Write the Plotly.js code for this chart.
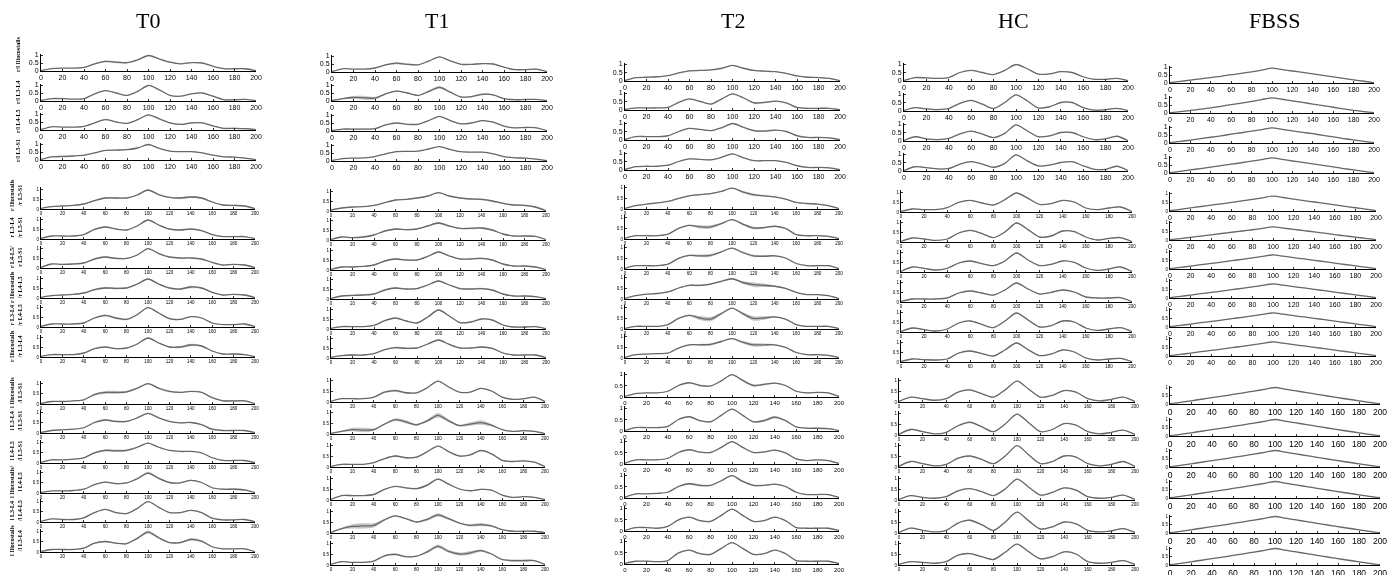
<!DOCTYPE html>
<html><head><meta charset="utf-8">
<script src="https://cdn.plot.ly/plotly-3.0.1.min.js"></script>
<style>
html,body{margin:0;padding:0;background:#fff}
#chart{width:1397px;height:575px;will-change:transform}
#chart svg text{-webkit-font-smoothing:antialiased}
</style>
</head><body><div id="chart"></div>
<script>
// ---------- DATA ----------
const xs = [0,10,20,30,40,50,60,70,80,90,100,110,120,130,140,150,160,170,180,190,200];
const columnTitles = ['T0','T1','T2','HC','FBSS'];
const rowLabels = [
 'r/l Iliocostalis','r/l L3-L4','r/l L4-L5','r/l L5-S1',
 'r Iliocostalis<br>/r L5-S1','r L3-L4<br>/r L5-S1','r L4-L5/<br>r L5-S1','r Iliocostalis<br>/r L4-L5','r L3-L4<br>/r L4-L5','r Iliocostalis<br>/r L3-L4',
 'l Iliocostalis<br>/l L5-S1','l L3-L4<br>/l L5-S1','l L4-L5<br>/l L5-S1','l Iliocostalis/<br>l L4-L5','l L3-L4<br>/l L4-L5','l Iliocostalis<br>/l L3-L4'
];
const xTicks = [0,20,40,60,80,100,120,140,160,180,200];
const yTicks = [0,0.5,1];
const yTickText = ['0','0.5','1'];

// mean curves (normalised, 0..1) read at xs
const meanT0 = [
 [0.02,0.15,0.18,0.18,0.22,0.45,0.6,0.55,0.52,0.7,0.97,0.75,0.55,0.45,0.52,0.5,0.3,0.15,0.14,0.14,0.02],
 [0.03,0.15,0.15,0.12,0.15,0.45,0.65,0.5,0.35,0.6,0.97,0.7,0.35,0.3,0.45,0.5,0.3,0.08,0.08,0.1,0.02],
 [0.03,0.2,0.18,0.18,0.22,0.45,0.65,0.5,0.42,0.65,0.95,0.7,0.45,0.35,0.45,0.45,0.25,0.1,0.1,0.08,0.02],
 [0.03,0.2,0.22,0.25,0.3,0.45,0.6,0.62,0.65,0.75,0.97,0.72,0.55,0.52,0.52,0.45,0.3,0.2,0.18,0.12,0.02],
 [0.03,0.12,0.15,0.18,0.25,0.42,0.55,0.55,0.55,0.7,0.95,0.72,0.58,0.55,0.6,0.55,0.35,0.2,0.18,0.15,0.02],
 [0.03,0.15,0.15,0.15,0.22,0.48,0.6,0.5,0.45,0.65,0.95,0.7,0.5,0.45,0.5,0.42,0.22,0.12,0.12,0.12,0.02],
 [0.03,0.2,0.18,0.2,0.25,0.45,0.55,0.48,0.48,0.65,0.97,0.72,0.55,0.5,0.5,0.45,0.28,0.15,0.18,0.15,0.02],
 [0.03,0.12,0.15,0.18,0.25,0.42,0.5,0.48,0.5,0.7,0.95,0.7,0.5,0.45,0.55,0.5,0.28,0.15,0.18,0.15,0.02],
 [0.03,0.15,0.15,0.15,0.2,0.45,0.58,0.45,0.38,0.62,0.97,0.7,0.42,0.38,0.52,0.45,0.2,0.12,0.12,0.15,0.02],
 [0.03,0.12,0.12,0.12,0.2,0.42,0.5,0.42,0.45,0.65,0.95,0.7,0.5,0.5,0.6,0.55,0.3,0.15,0.15,0.12,0.02],
 [0.03,0.12,0.12,0.15,0.2,0.45,0.55,0.55,0.58,0.75,0.97,0.75,0.6,0.55,0.6,0.55,0.3,0.15,0.15,0.15,0.02],
 [0.03,0.12,0.15,0.18,0.25,0.5,0.62,0.55,0.55,0.72,0.93,0.72,0.55,0.48,0.5,0.4,0.18,0.12,0.12,0.12,0.02],
 [0.03,0.15,0.15,0.18,0.25,0.48,0.6,0.58,0.6,0.75,0.95,0.75,0.6,0.55,0.55,0.48,0.25,0.12,0.12,0.12,0.02],
 [0.03,0.1,0.1,0.12,0.18,0.4,0.52,0.45,0.48,0.68,0.95,0.7,0.5,0.48,0.6,0.5,0.25,0.18,0.18,0.15,0.02],
 [0.03,0.15,0.12,0.12,0.2,0.45,0.6,0.45,0.4,0.65,0.97,0.7,0.45,0.45,0.55,0.45,0.18,0.1,0.1,0.12,0.02],
 [0.03,0.12,0.12,0.12,0.18,0.42,0.5,0.42,0.4,0.65,0.95,0.68,0.45,0.45,0.6,0.52,0.25,0.15,0.15,0.15,0.02]
];
const meanT1 = [
 [0.03,0.2,0.18,0.18,0.25,0.45,0.55,0.48,0.45,0.68,0.95,0.7,0.48,0.48,0.52,0.5,0.3,0.15,0.15,0.18,0.02],
 [0.03,0.15,0.22,0.2,0.18,0.45,0.62,0.5,0.35,0.6,0.85,0.55,0.25,0.28,0.42,0.38,0.15,0.08,0.1,0.1,0.02],
 [0.03,0.12,0.12,0.12,0.15,0.38,0.5,0.42,0.42,0.65,0.92,0.65,0.45,0.5,0.65,0.55,0.3,0.2,0.22,0.2,0.02],
 [0.03,0.15,0.18,0.2,0.28,0.45,0.58,0.6,0.62,0.75,0.9,0.72,0.58,0.55,0.55,0.45,0.28,0.2,0.18,0.12,0.02],
 [0.05,0.15,0.2,0.22,0.28,0.42,0.55,0.58,0.65,0.75,0.92,0.75,0.65,0.6,0.58,0.5,0.38,0.3,0.28,0.2,0.02],
 [0.03,0.15,0.12,0.15,0.25,0.45,0.55,0.52,0.55,0.7,0.85,0.7,0.58,0.58,0.6,0.5,0.3,0.2,0.2,0.18,0.02],
 [0.03,0.15,0.15,0.18,0.25,0.45,0.55,0.5,0.5,0.68,0.9,0.7,0.55,0.55,0.58,0.5,0.3,0.2,0.2,0.15,0.02],
 [0.03,0.15,0.18,0.2,0.25,0.45,0.55,0.5,0.52,0.7,0.9,0.7,0.52,0.5,0.52,0.45,0.25,0.15,0.15,0.12,0.02],
 [0.03,0.12,0.12,0.12,0.18,0.42,0.55,0.4,0.3,0.6,0.95,0.65,0.32,0.35,0.5,0.45,0.2,0.1,0.1,0.12,0.02],
 [0.03,0.12,0.15,0.15,0.22,0.42,0.52,0.48,0.5,0.7,0.9,0.68,0.5,0.5,0.55,0.48,0.25,0.15,0.15,0.15,0.02],
 [0.03,0.15,0.15,0.15,0.22,0.45,0.52,0.42,0.42,0.65,0.95,0.68,0.45,0.45,0.62,0.5,0.22,0.12,0.15,0.22,0.02],
 [0.03,0.12,0.2,0.18,0.2,0.45,0.65,0.55,0.42,0.6,0.85,0.6,0.38,0.45,0.52,0.4,0.2,0.12,0.15,0.12,0.02],
 [0.03,0.12,0.12,0.12,0.2,0.38,0.5,0.42,0.45,0.7,0.95,0.7,0.5,0.55,0.75,0.6,0.3,0.25,0.28,0.22,0.02],
 [0.03,0.2,0.2,0.2,0.25,0.48,0.62,0.55,0.52,0.68,0.95,0.72,0.5,0.42,0.48,0.45,0.22,0.12,0.15,0.12,0.02],
 [0.03,0.2,0.3,0.32,0.35,0.6,0.78,0.65,0.5,0.62,0.82,0.65,0.45,0.35,0.38,0.32,0.15,0.08,0.08,0.08,0.02],
 [0.03,0.15,0.12,0.12,0.18,0.42,0.48,0.38,0.4,0.6,0.85,0.62,0.5,0.55,0.65,0.5,0.25,0.2,0.2,0.2,0.02]
];
const meanT2 = [
 [0.03,0.2,0.22,0.25,0.32,0.48,0.6,0.62,0.65,0.75,0.92,0.75,0.62,0.58,0.55,0.45,0.3,0.22,0.2,0.15,0.02],
 [0.03,0.12,0.12,0.12,0.15,0.45,0.65,0.5,0.35,0.65,0.95,0.72,0.42,0.45,0.52,0.42,0.15,0.1,0.1,0.1,0.02],
 [0.03,0.2,0.2,0.2,0.25,0.5,0.68,0.62,0.55,0.72,0.97,0.75,0.55,0.52,0.58,0.5,0.25,0.15,0.15,0.12,0.02],
 [0.03,0.2,0.22,0.22,0.28,0.5,0.65,0.62,0.6,0.75,0.95,0.72,0.55,0.55,0.55,0.45,0.25,0.15,0.15,0.12,0.02],
 [0.03,0.15,0.22,0.28,0.35,0.48,0.6,0.65,0.7,0.8,0.95,0.78,0.65,0.6,0.55,0.45,0.3,0.25,0.22,0.15,0.02],
 [0.03,0.15,0.15,0.15,0.22,0.48,0.62,0.55,0.55,0.7,0.88,0.68,0.5,0.52,0.58,0.48,0.2,0.15,0.15,0.12,0.02],
 [0.03,0.15,0.15,0.15,0.22,0.48,0.62,0.6,0.62,0.78,0.95,0.75,0.6,0.58,0.6,0.5,0.25,0.15,0.15,0.15,0.02],
 [0.03,0.15,0.22,0.25,0.32,0.5,0.62,0.62,0.68,0.8,0.92,0.75,0.65,0.62,0.58,0.48,0.3,0.2,0.2,0.15,0.02],
 [0.03,0.12,0.12,0.12,0.2,0.48,0.62,0.5,0.45,0.7,0.95,0.7,0.48,0.5,0.55,0.45,0.2,0.12,0.12,0.12,0.02],
 [0.03,0.15,0.18,0.2,0.22,0.45,0.6,0.6,0.62,0.75,0.88,0.72,0.6,0.6,0.6,0.48,0.25,0.15,0.15,0.12,0.02],
 [0.03,0.15,0.18,0.18,0.25,0.5,0.62,0.5,0.48,0.7,0.97,0.72,0.5,0.55,0.6,0.5,0.25,0.18,0.2,0.18,0.02],
 [0.03,0.15,0.15,0.15,0.2,0.5,0.62,0.45,0.4,0.68,0.95,0.68,0.4,0.45,0.6,0.45,0.18,0.12,0.12,0.1,0.02],
 [0.03,0.18,0.18,0.18,0.25,0.5,0.62,0.52,0.5,0.72,0.97,0.72,0.5,0.52,0.6,0.48,0.22,0.15,0.18,0.15,0.02],
 [0.03,0.18,0.18,0.2,0.25,0.5,0.62,0.55,0.55,0.75,0.97,0.72,0.55,0.55,0.6,0.5,0.25,0.15,0.15,0.15,0.02],
 [0.03,0.15,0.15,0.12,0.2,0.48,0.6,0.45,0.42,0.68,0.95,0.68,0.42,0.45,0.6,0.45,0.15,0.12,0.12,0.12,0.02],
 [0.03,0.12,0.12,0.1,0.15,0.48,0.6,0.45,0.42,0.68,0.93,0.68,0.42,0.45,0.6,0.45,0.15,0.12,0.12,0.12,0.02]
];
const meanHC = [
 [0.03,0.2,0.18,0.15,0.2,0.5,0.62,0.5,0.38,0.62,0.97,0.72,0.4,0.42,0.55,0.5,0.25,0.1,0.1,0.15,0.02],
 [0.03,0.2,0.12,0.08,0.15,0.45,0.62,0.4,0.15,0.5,0.95,0.6,0.18,0.25,0.5,0.5,0.2,0.05,0.08,0.15,0.02],
 [0.03,0.25,0.12,0.08,0.15,0.42,0.58,0.4,0.2,0.45,0.95,0.6,0.25,0.3,0.5,0.5,0.25,0.08,0.12,0.28,0.02],
 [0.03,0.25,0.2,0.12,0.15,0.4,0.55,0.4,0.22,0.45,0.95,0.6,0.3,0.35,0.5,0.55,0.3,0.1,0.1,0.28,0.02],
 [0.03,0.15,0.12,0.12,0.22,0.48,0.58,0.45,0.35,0.62,0.95,0.68,0.38,0.42,0.58,0.5,0.2,0.12,0.2,0.25,0.02],
 [0.03,0.2,0.15,0.08,0.15,0.45,0.58,0.42,0.22,0.5,0.95,0.62,0.25,0.3,0.55,0.52,0.25,0.1,0.18,0.22,0.02],
 [0.03,0.25,0.18,0.1,0.18,0.45,0.55,0.42,0.32,0.55,0.95,0.6,0.32,0.38,0.55,0.48,0.2,0.08,0.15,0.25,0.02],
 [0.03,0.15,0.15,0.15,0.2,0.45,0.55,0.45,0.35,0.6,0.95,0.65,0.4,0.48,0.6,0.5,0.25,0.2,0.2,0.22,0.02],
 [0.03,0.2,0.12,0.05,0.15,0.45,0.55,0.38,0.22,0.55,0.95,0.6,0.25,0.32,0.55,0.5,0.2,0.08,0.15,0.22,0.02],
 [0.03,0.15,0.12,0.1,0.15,0.45,0.55,0.42,0.3,0.6,0.95,0.62,0.32,0.4,0.6,0.5,0.2,0.1,0.15,0.18,0.02],
 [0.03,0.22,0.15,0.08,0.15,0.45,0.55,0.38,0.22,0.55,0.95,0.58,0.22,0.3,0.52,0.45,0.15,0.05,0.12,0.22,0.02],
 [0.03,0.25,0.15,0.05,0.12,0.42,0.58,0.38,0.15,0.5,0.95,0.55,0.15,0.25,0.52,0.45,0.15,0.05,0.12,0.22,0.02],
 [0.03,0.25,0.15,0.05,0.12,0.4,0.5,0.35,0.15,0.5,0.97,0.55,0.15,0.25,0.5,0.45,0.15,0.05,0.12,0.25,0.02],
 [0.03,0.2,0.12,0.08,0.15,0.42,0.52,0.38,0.2,0.5,0.95,0.58,0.22,0.35,0.55,0.45,0.15,0.08,0.12,0.22,0.02],
 [0.03,0.22,0.12,0.05,0.12,0.45,0.58,0.38,0.12,0.5,0.95,0.55,0.18,0.28,0.5,0.42,0.12,0.05,0.1,0.2,0.02],
 [0.03,0.15,0.12,0.08,0.15,0.45,0.52,0.38,0.25,0.58,0.95,0.6,0.28,0.38,0.6,0.5,0.15,0.08,0.12,0.2,0.02]
];
const meanFBSS = [
 [0.02,0.1,0.18,0.26,0.34,0.42,0.52,0.6,0.7,0.8,0.93,0.84,0.75,0.66,0.57,0.48,0.38,0.29,0.2,0.11,0.02],
 [0.02,0.08,0.16,0.24,0.32,0.42,0.52,0.62,0.72,0.84,0.95,0.86,0.76,0.66,0.56,0.46,0.36,0.26,0.17,0.09,0.02],
 [0.02,0.1,0.18,0.27,0.36,0.45,0.55,0.64,0.74,0.84,0.95,0.85,0.76,0.67,0.58,0.48,0.38,0.28,0.19,0.1,0.02],
 [0.02,0.1,0.19,0.28,0.37,0.46,0.55,0.64,0.74,0.84,0.95,0.85,0.75,0.66,0.57,0.48,0.38,0.28,0.19,0.1,0.02],
 [0.02,0.09,0.17,0.25,0.33,0.4,0.48,0.56,0.64,0.73,0.83,0.75,0.66,0.58,0.5,0.42,0.34,0.26,0.18,0.1,0.02],
 [0.02,0.08,0.15,0.22,0.29,0.36,0.43,0.5,0.57,0.65,0.73,0.66,0.59,0.52,0.45,0.38,0.3,0.23,0.16,0.09,0.02],
 [0.02,0.09,0.16,0.24,0.31,0.38,0.46,0.54,0.62,0.7,0.78,0.71,0.63,0.56,0.48,0.41,0.33,0.25,0.17,0.1,0.02],
 [0.02,0.09,0.16,0.24,0.31,0.38,0.46,0.54,0.62,0.7,0.78,0.71,0.63,0.56,0.48,0.41,0.33,0.25,0.17,0.1,0.02],
 [0.02,0.09,0.16,0.24,0.31,0.38,0.46,0.54,0.62,0.7,0.78,0.71,0.63,0.56,0.48,0.41,0.33,0.25,0.17,0.1,0.02],
 [0.02,0.09,0.16,0.24,0.31,0.38,0.46,0.54,0.62,0.7,0.78,0.71,0.63,0.56,0.48,0.41,0.33,0.25,0.17,0.1,0.02],
 [0.02,0.1,0.19,0.28,0.37,0.46,0.56,0.66,0.76,0.86,0.97,0.87,0.77,0.67,0.57,0.47,0.37,0.28,0.19,0.1,0.02],
 [0.02,0.1,0.19,0.28,0.37,0.46,0.56,0.66,0.76,0.86,0.97,0.87,0.77,0.67,0.57,0.47,0.37,0.28,0.19,0.1,0.02],
 [0.02,0.1,0.19,0.28,0.37,0.46,0.56,0.66,0.76,0.86,0.97,0.87,0.77,0.67,0.57,0.47,0.37,0.28,0.19,0.1,0.02],
 [0.02,0.1,0.19,0.28,0.37,0.46,0.56,0.66,0.76,0.86,0.97,0.87,0.77,0.67,0.57,0.47,0.37,0.28,0.19,0.1,0.02],
 [0.02,0.1,0.19,0.28,0.37,0.46,0.56,0.66,0.76,0.86,0.97,0.87,0.77,0.67,0.57,0.47,0.37,0.28,0.19,0.1,0.02],
 [0.02,0.1,0.19,0.28,0.37,0.46,0.56,0.66,0.76,0.86,0.97,0.87,0.77,0.67,0.57,0.47,0.37,0.28,0.19,0.1,0.02]
];

// half-width of the grey variability band, in hundredths
const bandT0 = [
 [1,1,1,1,2,4,6,6,4,2,3,4,4,3,2,2,2,2,3,3,1],
 [1,1,1,1,1,2,2,2,2,2,2,2,2,2,2,2,3,3,3,2,1],
 [1,1,1,1,1,2,3,2,2,2,2,2,3,4,4,3,2,3,4,3,1],
 [1,1,1,1,1,2,2,2,2,2,2,2,2,2,2,2,2,2,2,2,1],
 [1,1,1,1,2,3,4,4,3,2,2,2,3,4,5,4,2,2,3,3,1],
 [1,1,1,1,2,3,3,3,2,2,2,2,2,2,2,2,2,2,2,2,1],
 [1,1,1,1,2,3,4,4,3,2,2,3,3,2,2,2,2,2,2,2,1],
 [1,1,1,1,2,4,5,5,4,2,2,3,3,4,6,4,2,2,2,2,1],
 [1,1,1,1,2,4,5,5,4,2,2,3,4,3,2,2,2,2,2,2,1],
 [1,1,1,1,2,2,3,3,2,2,2,3,4,5,6,4,2,2,2,2,1],
 [1,1,1,1,2,5,7,7,5,3,3,5,4,3,2,2,2,3,4,3,1],
 [1,1,1,1,2,4,5,5,4,2,2,2,2,2,2,2,2,2,2,2,1],
 [1,1,1,1,2,4,6,6,5,3,2,2,2,2,2,2,2,2,2,2,1],
 [1,1,1,1,2,2,3,3,3,5,6,5,3,2,3,2,2,3,5,4,1],
 [1,1,1,1,1,2,2,2,2,2,2,2,2,2,2,2,2,2,2,2,1],
 [1,1,1,1,2,3,4,3,3,5,7,5,3,4,6,4,2,2,2,2,1]
];
const bandT1 = [
 [1,1,1,1,2,4,6,5,3,2,2,2,2,2,3,2,2,2,2,2,1],
 [1,4,10,12,8,3,3,3,3,6,8,5,3,4,6,4,2,2,2,2,1],
 [1,2,3,3,2,2,2,2,2,2,2,2,2,2,2,2,2,2,2,2,1],
 [1,1,1,1,1,2,2,2,2,2,2,2,2,2,2,2,2,2,3,2,1],
 [1,1,1,1,2,2,2,2,2,2,3,2,2,3,4,4,3,3,4,3,1],
 [1,2,2,2,2,3,4,3,2,3,5,4,3,4,5,4,2,2,2,2,1],
 [1,2,2,2,2,3,4,4,3,3,4,3,3,3,4,3,2,2,2,2,1],
 [1,2,2,2,2,3,4,4,3,3,4,3,3,3,4,3,2,2,2,2,1],
 [1,2,2,2,2,3,3,3,3,3,3,3,3,3,3,3,2,2,2,2,1],
 [1,2,2,2,2,3,4,4,3,3,4,3,3,3,4,3,2,2,2,2,1],
 [1,1,1,1,2,4,5,4,2,2,2,2,2,2,2,2,2,2,2,2,1],
 [1,3,8,10,6,3,6,7,4,6,10,6,4,7,10,6,2,2,2,2,1],
 [1,1,1,1,2,2,3,4,3,2,2,2,2,2,2,2,2,2,2,2,1],
 [1,2,3,2,2,2,2,3,4,5,4,3,2,2,3,2,2,2,3,2,1],
 [1,4,10,12,10,4,3,3,3,6,8,5,3,5,7,4,2,2,2,2,1],
 [1,1,1,1,2,4,5,3,3,6,8,6,7,8,5,3,3,5,5,3,1]
];
const bandT2 = [
 [1,1,1,1,1,2,2,2,2,2,2,3,3,2,2,2,2,2,2,2,1],
 [1,1,1,1,1,2,2,2,2,2,2,3,5,5,3,2,2,2,2,2,1],
 [1,1,1,1,1,2,2,2,2,2,2,3,5,5,3,2,2,2,2,2,1],
 [1,1,1,1,1,2,2,2,2,2,2,2,2,2,2,2,2,2,2,2,1],
 [1,1,1,1,1,2,2,2,2,2,2,5,6,4,2,2,2,2,2,2,1],
 [1,1,1,1,1,2,3,7,8,4,2,5,6,4,2,2,2,2,2,2,1],
 [1,1,1,1,1,2,3,6,6,3,2,4,5,3,2,2,2,2,2,2,1],
 [1,1,1,1,1,2,3,4,4,3,2,6,10,8,3,2,2,2,2,2,1],
 [1,1,1,1,1,2,4,9,10,5,2,6,10,8,3,2,2,2,2,2,1],
 [1,1,1,1,1,2,3,4,5,4,2,5,8,6,3,2,2,2,2,2,1],
 [1,1,1,1,1,2,2,2,2,2,2,4,5,4,2,2,2,2,2,2,1],
 [1,1,1,1,1,2,2,3,3,2,2,2,3,5,6,3,2,2,2,2,1],
 [1,1,1,1,1,2,2,2,3,3,2,2,2,2,2,2,2,2,2,2,1],
 [1,1,1,1,1,2,4,5,3,2,2,4,4,3,2,2,2,2,2,2,1],
 [1,1,1,1,1,2,2,3,3,2,2,2,2,2,2,2,2,2,2,2,1],
 [1,1,1,1,1,2,2,3,4,2,2,2,3,2,2,2,2,2,2,2,1]
];
const bandHC = [
 [1,2,2,1,1,2,2,2,2,2,2,2,2,2,2,2,1,1,2,2,1],
 [1,3,2,1,1,2,3,2,2,2,2,2,2,2,3,2,1,1,2,2,1],
 [1,2,2,1,1,2,2,2,2,2,2,2,2,2,2,2,1,1,2,2,1],
 [1,2,2,1,1,2,2,2,2,2,2,2,2,2,2,2,1,1,2,3,1],
 [1,2,2,1,1,2,2,2,2,2,2,2,2,2,2,2,1,2,3,3,1],
 [1,2,2,1,1,2,3,2,2,2,2,2,2,2,2,2,1,2,3,3,1],
 [1,2,2,1,1,2,2,2,3,2,2,2,2,2,2,2,1,2,3,3,1],
 [1,2,2,1,1,2,2,2,2,2,2,3,2,2,2,2,1,1,2,2,1],
 [1,2,2,1,1,2,3,2,3,2,2,4,3,2,2,2,1,1,2,3,1],
 [1,2,2,1,1,2,2,2,2,2,2,2,2,2,2,2,1,1,2,2,1],
 [1,2,2,1,1,2,3,2,2,2,2,2,2,2,2,2,1,1,2,2,1],
 [1,4,3,1,1,2,2,2,2,2,2,2,2,2,2,2,1,1,2,2,1],
 [1,2,2,2,1,2,2,2,3,2,2,2,3,2,2,2,1,1,2,2,1],
 [1,2,2,1,1,2,2,2,2,2,2,2,2,3,3,3,2,1,2,2,1],
 [1,3,2,1,1,2,3,2,2,2,2,3,4,2,2,2,1,1,2,2,1],
 [1,2,2,1,1,2,2,3,3,2,2,3,3,2,2,2,1,1,2,2,1]
];
const bandFBSS = [
 [1,1,1,1,1,1,1,1,1,1,1,1,1,1,1,1,1,1,1,1,1],[1,1,1,1,1,1,1,1,1,1,1,2,2,2,1,1,1,1,1,1,1],
 [1,1,1,1,1,1,1,1,1,1,1,1,1,1,1,1,1,1,1,1,1],[1,1,1,1,1,1,1,1,1,1,1,1,1,1,1,1,1,1,1,1,1],
 [1,1,1,1,1,1,1,1,1,1,1,1,1,1,1,1,1,1,1,1,1],[1,1,1,1,1,1,1,1,1,1,1,1,1,1,1,1,1,1,1,1,1],
 [1,1,1,1,1,1,1,1,1,1,1,1,1,1,1,1,1,1,1,1,1],[1,1,1,1,1,1,1,1,1,1,1,1,1,1,1,1,1,1,1,1,1],
 [1,1,1,1,1,1,1,1,1,1,1,1,1,1,1,1,1,1,1,1,1],[1,1,1,1,1,1,1,1,1,1,1,1,1,1,1,1,1,1,1,1,1],
 [1,1,1,1,1,1,1,1,1,1,1,1,1,1,1,1,1,1,1,1,1],[1,1,1,1,1,1,1,1,1,1,1,1,1,1,1,1,1,1,1,1,1],
 [1,1,1,1,1,1,1,1,1,1,1,1,1,1,1,1,1,1,1,1,1],[1,1,1,1,1,1,1,1,1,1,1,1,1,1,1,1,1,1,1,1,1],
 [1,1,1,1,1,1,1,1,1,1,1,1,1,1,1,1,1,1,1,1,1],[1,1,1,1,1,1,1,1,1,1,1,1,1,1,1,1,1,1,1,1,1]
];

// ---------- LAYOUT GEOMETRY (pixels) ----------
const W = 1397, H = 575, YMAX = 1.08;
const columns = [
 {mean: meanT0, band: bandT0, tx: 148, xr: [[41,256],[41,255],[41,255]],
  base: [71,101,130,160,209,239,268,298,327,357,404,433,463,493,522,552], unit: [16,20,21], fx: [7,4.5,4.5], fy: [7,4.5,4.5]},
 {mean: meanT1, band: bandT1, tx: 437, xr: [[332,547],[331,546],[331,545]],
  base: [72,101,131,161,211,240,270,299,329,358,402,434,467,500,533,565], unit: [16,20,22], fx: [7,4.5,4.5], fy: [7,4.5,4.5]},
 {mean: meanT2, band: bandT2, tx: 733, xr: [[625,840],[625,839],[625,839]],
  base: [81,110,140,170,209,239,269,299,329,358,397,431,464,498,531,564], unit: [17,22,23], fx: [7,4.5,6], fy: [7,4.5,6]},
 {mean: meanHC, band: bandHC, tx: 1013, xr: [[904,1128],[901,1132],[899,1135]],
  base: [81,111,141,171,212,242,272,302,332,362,402,435,467,500,533,565], unit: [17,20,22], fx: [7,4.5,4.5], fy: [7,4.5,4.5]},
 {mean: meanFBSS, band: bandFBSS, tx: 1274, xr: [[1170,1374],[1170,1376],[1170,1380]],
  base: [83,113,143,173,211,240,269,298,327,356,404,436,467,498,533,565], unit: [16,18,17], fx: [7,7,8.5], fy: [7,4.5,4.5]}
];
const labelCenterOffset = [16,9,9,9, 14,11,11,11,11,11, 11,11,11,11,11,11];
const groupOf = r => (r < 4 ? 0 : (r < 10 ? 1 : 2));

const traces = [];
const layout = {
  width: W, height: H, margin: {l:0, r:0, t:0, b:0},
  paper_bgcolor: 'rgba(0,0,0,0)', plot_bgcolor: 'rgba(0,0,0,0)',
  showlegend: false, annotations: []
};
const tickFont = s => ({family: 'Liberation Sans, Arial, sans-serif', size: s, color: '#000'});
let n = 0;
columns.forEach((col, c) => {
  for (let r = 0; r < 16; r++) {
    n++;
    const g = groupOf(r);
    const sx = n === 1 ? '' : String(n);
    const xa = 'x' + sx, ya = 'y' + sx;
    const m = col.mean[r], b = col.band[r];
    const up = m.map((v, i) => v + b[i] / 100);
    const lo = m.map((v, i) => Math.max(0, v - b[i] / 100));
    const spl = {shape: 'spline', smoothing: 0.8};
    traces.push({x: xs, y: up, xaxis: xa, yaxis: ya, mode: 'lines', hoverinfo: 'skip',
                 line: Object.assign({width: 0, color: '#c8c8c8'}, spl)});
    traces.push({x: xs, y: lo, xaxis: xa, yaxis: ya, mode: 'lines', hoverinfo: 'skip',
                 fill: 'tonexty', fillcolor: '#c6c6c6', line: Object.assign({width: 0, color: '#c8c8c8'}, spl)});
    traces.push({x: xs, y: m, xaxis: xa, yaxis: ya, mode: 'lines',
                 line: Object.assign({width: 1.3, color: '#686868'}, spl)});
    const [x0, x1] = col.xr[g];
    const yb = col.base[r];
    const yt = yb - col.unit[g] * YMAX;
    layout['xaxis' + sx] = {
      domain: [x0 / W, x1 / W], range: [0, 200], anchor: ya,
      tickmode: 'array', tickvals: xTicks, ticktext: xTicks.map(String),
      ticks: 'inside', ticklen: 2, tickwidth: 0.8, tickcolor: '#000',
      showline: true, linecolor: '#000', linewidth: 1, showgrid: false, zeroline: false,
      tickfont: tickFont(col.fx[g]), tickangle: 0, fixedrange: true
    };
    layout['yaxis' + sx] = {
      domain: [(H - yb) / H, (H - yt) / H], range: [0, YMAX], anchor: xa,
      tickmode: 'array', tickvals: yTicks, ticktext: yTickText,
      ticks: 'inside', ticklen: 2, tickwidth: 0.8, tickcolor: '#000',
      showline: true, linecolor: '#000', linewidth: 1, showgrid: false, zeroline: false,
      tickfont: tickFont(col.fy[g]), fixedrange: true
    };
    if (c === 0) {
      const cy = yb - labelCenterOffset[r];
      layout.annotations.push({
        text: '<b>' + rowLabels[r] + '</b>', xref: 'paper', yref: 'paper',
        x: (g === 0 ? 18 : 16) / W, y: (H - cy) / H, textangle: -90, showarrow: false,
        xanchor: 'center', yanchor: 'middle',
        font: {family: 'Liberation Serif, Times New Roman, serif', size: 6, color: '#000'}
      });
    }
  }
  layout.annotations.push({
    text: columnTitles[c], xref: 'paper', yref: 'paper', x: col.tx / W, y: (H - 21) / H,
    showarrow: false, xanchor: 'center', yanchor: 'middle',
    font: {family: 'Liberation Serif, Times New Roman, serif', size: 22, color: '#000'}
  });
});

Plotly.newPlot('chart', traces, layout, {staticPlot: true, displayModeBar: false});
</script>
</body></html>
